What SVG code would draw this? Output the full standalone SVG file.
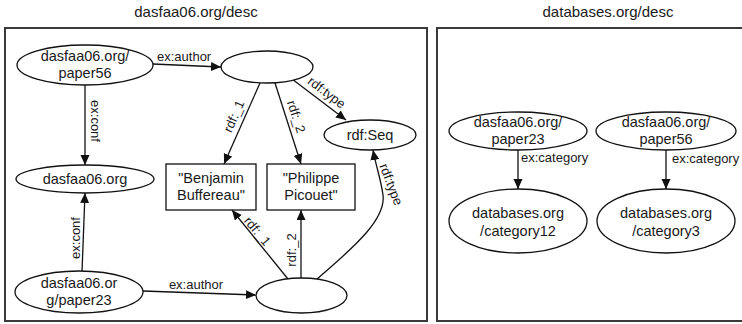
<svg xmlns="http://www.w3.org/2000/svg" width="742" height="324" viewBox="0 0 742 324">
  <style>
    .frame { fill: none; stroke: #3a3a3a; stroke-width: 2; }
    .node { fill: #fff; stroke: #111; stroke-width: 1.3; }
    .edge { fill: none; stroke: #111; stroke-width: 1.3; }
    text { font-family: "Liberation Sans", Arial, sans-serif; fill: #1a1a1a; }
    .title { font-size: 15px; text-anchor: middle; }
    .ntext { font-size: 14.5px; text-anchor: middle; }
    .lbl { font-size: 13px; }
    .lblc { font-size: 13px; text-anchor: middle; }
  </style>
  <defs>
    <marker id="arrow" markerUnits="userSpaceOnUse" markerWidth="11" markerHeight="10" refX="10" refY="4.5" orient="auto">
      <path d="M0,0 L10,4.5 L0,9 z" fill="#111"/>
    </marker>
  </defs>

  <rect width="742" height="324" fill="#fff"/>

  <!-- graph frames -->
  <g id="frame-dasfaa">
    <text class="title" x="196" y="17">dasfaa06.org/desc</text>
    <rect class="frame" x="5" y="28" width="422" height="293"/>
  </g>
  <g id="frame-databases">
    <text class="title" x="608" y="17">databases.org/desc</text>
    <rect class="frame" x="437" y="28" width="310" height="293"/>
  </g>

  <!-- connectors -->
  <g id="connectors">
    <line class="edge" x1="153" y1="64" x2="221" y2="67" marker-end="url(#arrow)"/>
    <text class="lbl" x="157" y="61">ex:author</text>

    <line class="edge" x1="85" y1="85" x2="85" y2="165" marker-end="url(#arrow)"/>
    <text class="lblc" transform="translate(91,121) rotate(90)">ex:conf</text>

    <line class="edge" x1="260" y1="83" x2="224" y2="164" marker-end="url(#arrow)"/>
    <text class="lblc" transform="translate(238,118) rotate(-66)">rdf:_1</text>

    <line class="edge" x1="275" y1="83" x2="301" y2="164" marker-end="url(#arrow)"/>
    <text class="lblc" transform="translate(292,118) rotate(72)">rdf:_2</text>

    <line class="edge" x1="292" y1="79" x2="346" y2="120" marker-end="url(#arrow)"/>
    <text class="lblc" transform="translate(324,96) rotate(37)">rdf:type</text>

    <line class="edge" x1="82" y1="272" x2="85" y2="193" marker-end="url(#arrow)"/>
    <text class="lblc" transform="translate(80,238) rotate(-90)">ex:conf</text>

    <line class="edge" x1="143" y1="291" x2="256" y2="295" marker-end="url(#arrow)"/>
    <text class="lblc" x="196" y="289">ex:author</text>

    <line class="edge" x1="288" y1="279" x2="232" y2="210" marker-end="url(#arrow)"/>
    <text class="lblc" transform="translate(254,234) rotate(50)">rdf:_1</text>

    <line class="edge" x1="301" y1="278" x2="301" y2="210" marker-end="url(#arrow)"/>
    <text class="lblc" transform="translate(296,250) rotate(-90)">rdf:_2</text>

    <path class="edge" d="M317,279 C358,244 386,218 383,195 C381,180 376,166 373,150" marker-end="url(#arrow)"/>
    <text class="lblc" transform="translate(387,186) rotate(69)">rdf:type</text>

    <line class="edge" x1="518" y1="150" x2="518" y2="189" marker-end="url(#arrow)"/>
    <text class="lbl" x="521" y="162">ex:category</text>

    <line class="edge" x1="666" y1="150" x2="666" y2="189" marker-end="url(#arrow)"/>
    <text class="lbl" x="672" y="163">ex:category</text>
  </g>

  <!-- nodes: dasfaa06.org/desc -->
  <g id="n-paper56">
    <ellipse class="node" cx="85" cy="65" rx="68" ry="20"/>
    <text class="ntext" x="85" y="61">dasfaa06.org/</text>
    <text class="ntext" x="85" y="78">paper56</text>
  </g>
  <g id="n-blank1">
    <ellipse class="node" cx="267" cy="67" rx="46" ry="16"/>
  </g>
  <g id="n-rdfseq">
    <ellipse class="node" cx="370" cy="135" rx="46" ry="15"/>
    <text class="ntext" x="370" y="140">rdf:Seq</text>
  </g>
  <g id="n-dasfaa">
    <ellipse class="node" cx="85" cy="179" rx="69" ry="14"/>
    <text class="ntext" x="85" y="184">dasfaa06.org</text>
  </g>
  <g id="n-benjamin">
    <rect class="node" x="166" y="164" width="90" height="46"/>
    <text class="ntext" x="211" y="183">"Benjamin</text>
    <text class="ntext" x="211" y="200">Buffereau"</text>
  </g>
  <g id="n-philippe">
    <rect class="node" x="267" y="164" width="88" height="46"/>
    <text class="ntext" x="311" y="183">"Philippe</text>
    <text class="ntext" x="311" y="200">Picouet"</text>
  </g>
  <g id="n-paper23">
    <ellipse class="node" cx="79" cy="292" rx="64" ry="21"/>
    <text class="ntext" x="79" y="288">dasfaa06.or</text>
    <text class="ntext" x="79" y="305">g/paper23</text>
  </g>
  <g id="n-blank2">
    <ellipse class="node" cx="301.5" cy="295.5" rx="45.5" ry="17.5"/>
  </g>

  <!-- nodes: databases.org/desc -->
  <g id="n-db-paper23">
    <ellipse class="node" cx="518" cy="131" rx="69" ry="19"/>
    <text class="ntext" x="518" y="127">dasfaa06.org/</text>
    <text class="ntext" x="518" y="144">paper23</text>
  </g>
  <g id="n-db-paper56">
    <ellipse class="node" cx="666" cy="131" rx="70" ry="19"/>
    <text class="ntext" x="666" y="127">dasfaa06.org/</text>
    <text class="ntext" x="666" y="144">paper56</text>
  </g>
  <g id="n-category12">
    <ellipse class="node" cx="518" cy="221" rx="69" ry="32"/>
    <text class="ntext" x="518" y="218">databases.org</text>
    <text class="ntext" x="518" y="236">/category12</text>
  </g>
  <g id="n-category3">
    <ellipse class="node" cx="666" cy="221" rx="69" ry="32"/>
    <text class="ntext" x="666" y="218">databases.org</text>
    <text class="ntext" x="666" y="236">/category3</text>
  </g>
</svg>
